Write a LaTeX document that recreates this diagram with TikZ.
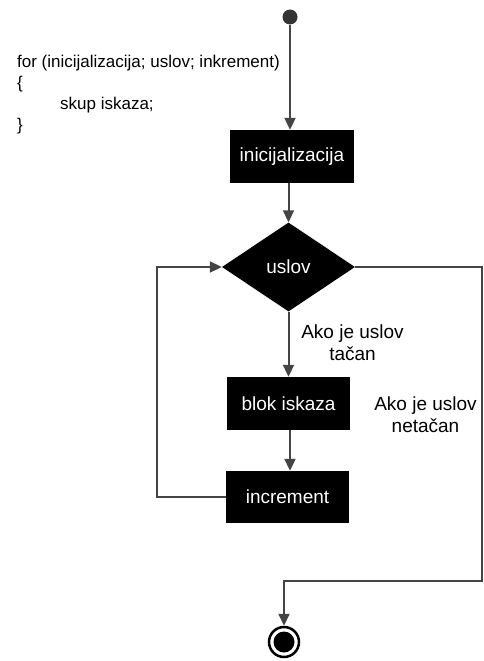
\documentclass[tikz,border=0pt]{standalone}
\usepackage{fontspec}
\setmainfont{Liberation Sans}
\usetikzlibrary{shapes.geometric,arrows.meta}
\definecolor{flowline}{HTML}{444444}
\begin{document}
\begin{tikzpicture}[x=1pt,y=1pt,
  flow/.style={draw=flowline,line width=2pt,-{Triangle[length=12pt,width=11pt]}},
  plain/.style={draw=flowline,line width=2pt},
  actbox/.style={rectangle,fill=black,text=white,inner sep=0pt,
    font=\fontsize{19}{22}\selectfont},
  cond/.style={diamond,fill=black,text=white,inner sep=0pt,
    minimum width=133pt,minimum height=89pt,font=\fontsize{19}{22}\selectfont},
  note/.style={inner sep=0pt,align=center,font=\fontsize{19}{22}\selectfont}]
\useasboundingbox (0,0) rectangle (483,-661);

% code snippet of the loop
\node[inner sep=0pt,anchor=north west,align=left,
  font=\fontsize{17}{21}\selectfont] (code) at (17,-54.6)
  {for (inicijalizacija; uslov; inkrement)\\
   \{\\
   \hspace*{43pt}skup iskaza;\\
   \}};

% activity nodes
\node[circle,fill=black!80,inner sep=0pt,minimum size=15pt] (start) at (290,-17) {};
\node[actbox,minimum width=124pt,minimum height=53pt] (init) at (292,-156.5) {inicijalizacija};
\node[cond] (uslov) at (288.5,-267) {uslov};
\node[actbox,minimum width=123pt,minimum height=53pt] (blok) at (288.5,-403.5) {blok iskaza};
\node[actbox,minimum width=123pt,minimum height=52pt] (incr) at (287.5,-497) {increment};
\node[circle,draw=black,line width=2.5pt,inner sep=0pt,minimum size=30pt] (end) at (284,-642) {};
\node[circle,fill=black,inner sep=0pt,minimum size=21pt] (endcore) at (end) {};

% branch labels
\node[note,anchor=north] (yes) at (352.5,-324.4) {Ako je uslov\\tačan};
\node[note,anchor=north] (no) at (425.5,-396.4) {Ako je uslov\\netačan};

% routing points
\coordinate (loopx) at (157,-497);
\coordinate (rb) at (481.5,-581);

% connectors
\draw[flow] (start) -- (start |- init.north);
\draw[flow] (uslov.north |- init.south) -- (uslov.north);
\draw[flow] (uslov.south) -- (uslov.south |- blok.north);
\draw[flow] (blok.south -| 290,0) -- (incr.north -| 290,0);
\draw[flow] (incr.west) -- (loopx) |- (uslov.west);
\draw[flow] (uslov.east) -| (rb) -| (end.north);
\end{tikzpicture}
\end{document}
